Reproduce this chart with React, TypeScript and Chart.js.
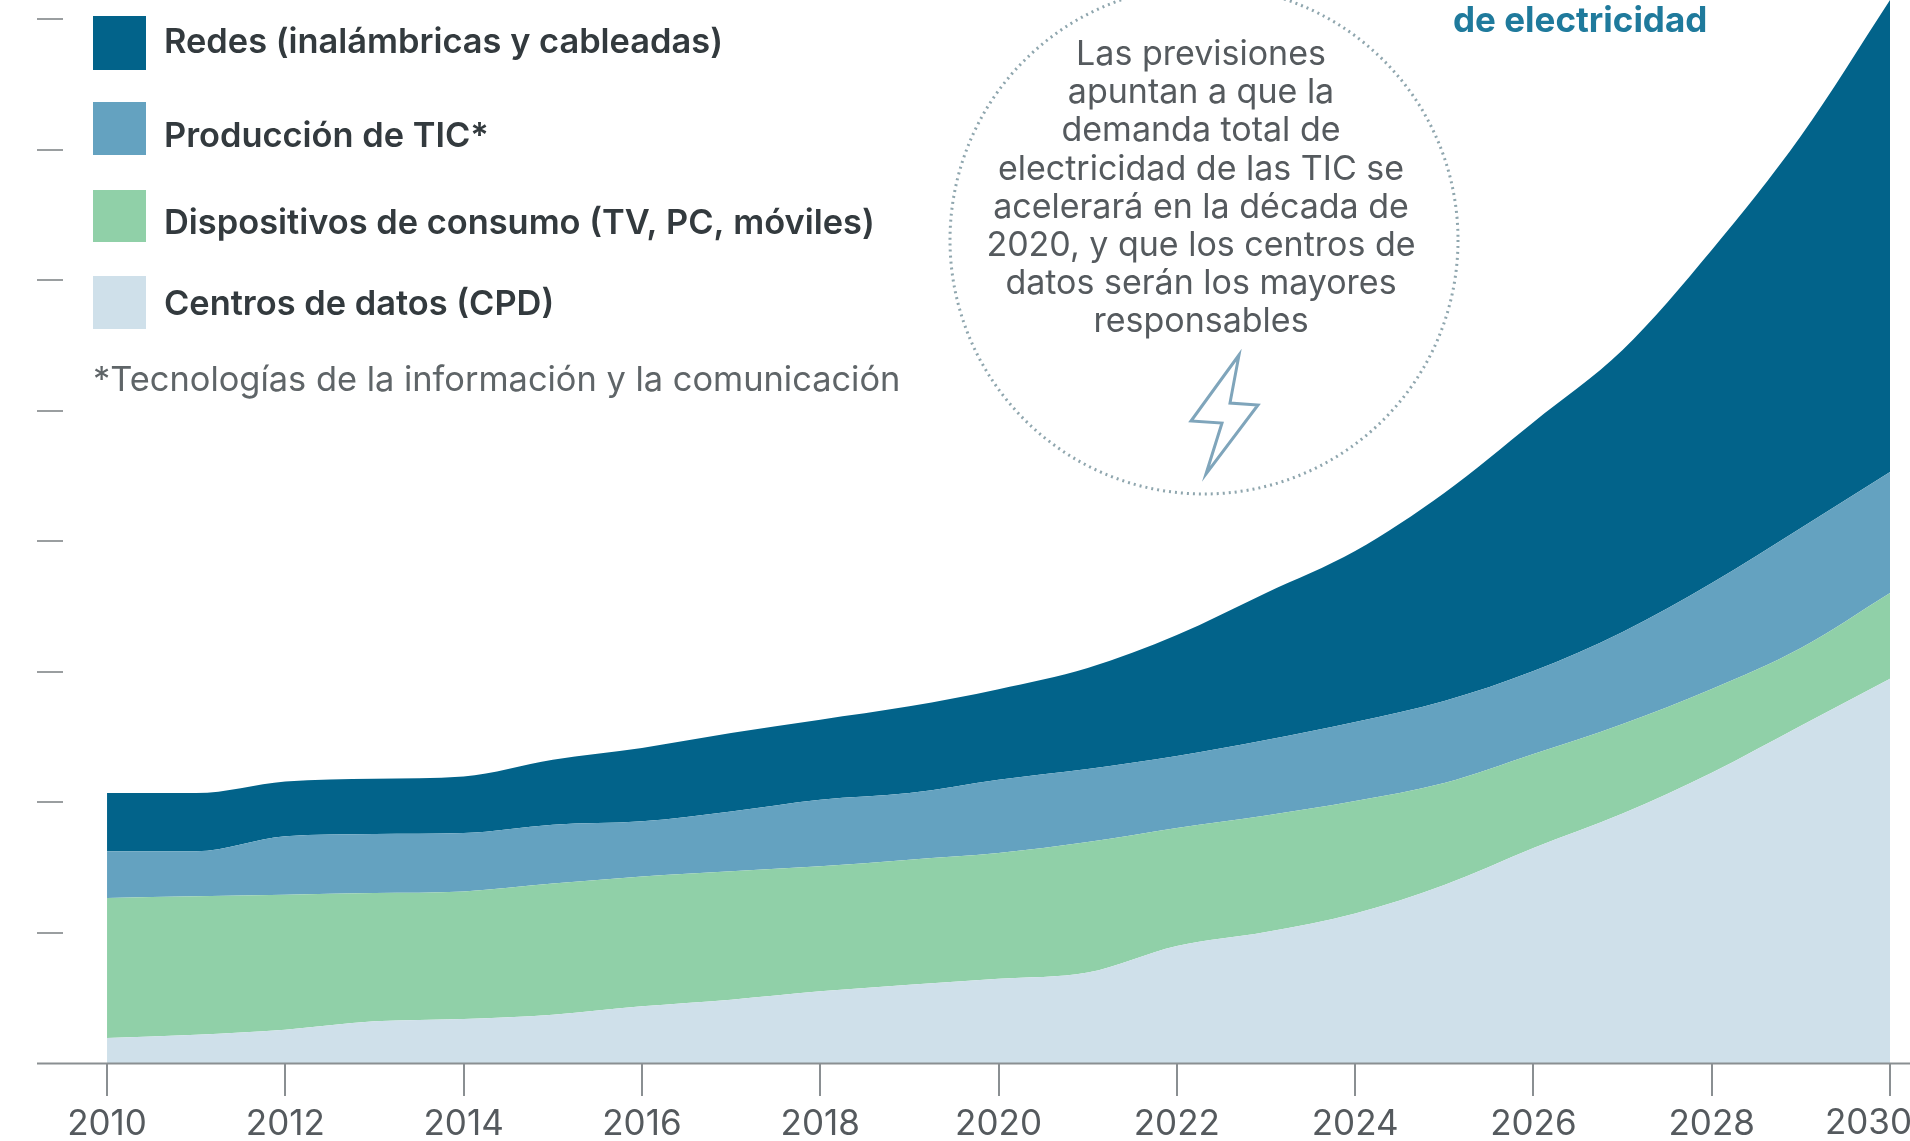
import React, { useEffect, useRef } from "react";
import { Chart, registerables } from "chart.js";

Chart.register(...registerables);

const years = [2010,2011,2012,2013,2014,2015,2016,2017,2018,2019,2020,2021,2022,2023,2024,2025,2026,2027,2028,2029,2030];
const centros = [192,217,255,319,337,370,434,485,549,600,645,693,897,1004,1146,1364,1648,1912,2225,2585,2944];
const dispositivos = [1072,1060,1035,984,978,1005,996,984,958,958,964,1000,904,893,862,782,720,686,641,595,658];
const produccion = [358,345,447,452,447,451,422,459,511,511,562,560,551,578,605,628,636,705,812,920,927];
const redes = [447,447,421,424,434,498,562,600,613,664,694,774,928,1127,1310,1594,1907,2160,2552,3003,3617];

const yTicks = [0,1000,2000,3000,4000,5000,6000,7000,8000];
const xLabels = [2010,2012,2014,2016,2018,2020,2022,2024,2026,2028];
const lastYearLabel = "2030";

const legendNames = ["Redes (inalámbricas y cableadas)","Producción de TIC*","Dispositivos de consumo (TV, PC, móviles)","Centros de datos (CPD)"];
const legendColors = ["#02638a","#64a2c0","#90d0a8","#cfe0ea"];
const footnote = "*Tecnologías de la información y la comunicación";
const calloutLines = ["Las previsiones","apuntan a que la","demanda total de","electricidad de las TIC se","acelerará en la década de","2020, y que los centros de","datos serán los mayores","responsables"];
const headline = "de electricidad";

const FONT = '"Inter", "Open Sans", sans-serif';

const decor = {
  id: "decor",
  afterDraw(chart: any) {
    const c = chart.ctx;
    const x = chart.scales.x;
    c.save();
    // baseline, running past the plot on both sides
    c.strokeStyle = "#8a8f92";
    c.lineWidth = 2;
    c.beginPath();
    c.moveTo(37, x.top + 0.5);
    c.lineTo(1910, x.top + 0.5);
    c.stroke();
    // last year label, pushed in from the edge
    c.fillStyle = "#555a5e";
    c.font = `400 35px ${FONT}`;
    c.textAlign = "right";
    c.textBaseline = "middle";
    c.fillText(lastYearLabel, 1912, 1123);
    // legend
    const swY = [16, 102, 190, 276];
    const swH = [54, 53, 52, 53];
    const txtY = [43, 137, 224, 305];
    legendNames.forEach((name, i) => {
      c.fillStyle = legendColors[i];
      c.fillRect(93, swY[i], 53, swH[i]);
      c.fillStyle = "#333a3e";
      c.font = `600 34.4px ${FONT}`;
      c.textAlign = "left";
      c.textBaseline = "middle";
      c.fillText(name, 164, txtY[i]);
    });
    c.fillStyle = "#5f6568";
    c.font = `400 34.4px ${FONT}`;
    c.fillText(footnote, 93, 381);
    // callout
    c.strokeStyle = "#8fa6ae";
    c.lineWidth = 3;
    c.setLineDash([2, 4]);
    c.beginPath();
    c.arc(1204, 240, 254, 0, Math.PI * 2);
    c.stroke();
    c.setLineDash([]);
    c.fillStyle = "#555a5e";
    c.font = `400 34px ${FONT}`;
    c.textAlign = "center";
    calloutLines.forEach((l, i) => c.fillText(l, 1201, 55 + i * 38.1));
    // bolt icon
    c.strokeStyle = "#7fa5bb";
    c.lineWidth = 3;
    c.lineJoin = "miter";
    c.beginPath();
    c.moveTo(1239, 355);
    c.lineTo(1191, 421);
    c.lineTo(1222, 423);
    c.lineTo(1206, 474);
    c.lineTo(1258, 405);
    c.lineTo(1230, 403);
    c.closePath();
    c.stroke();
    // headline fragment
    c.fillStyle = "#1f7a9c";
    c.font = `700 35px ${FONT}`;
    c.textAlign = "left";
    c.fillText(headline, 1453, 21);
    c.restore();
  },
};

export default function App() {
  const ref = useRef<HTMLCanvasElement>(null);
  useEffect(() => {
    const toPts = (v: number[]) => v.map((y, i) => ({ x: years[i], y }));
    const base = {
      pointRadius: 0,
      borderWidth: 0,
      cubicInterpolationMode: "monotone",
      stack: "all",
    };
    const chart = new Chart(ref.current!, {
      type: "line",
      data: {
        datasets: [
          { ...base, label: legendNames[3], data: toPts(centros), backgroundColor: legendColors[3], fill: "origin" },
          { ...base, label: legendNames[2], data: toPts(dispositivos), backgroundColor: legendColors[2], fill: "-1" },
          { ...base, label: legendNames[1], data: toPts(produccion), backgroundColor: legendColors[1], fill: "-1" },
          { ...base, label: legendNames[0], data: toPts(redes), backgroundColor: legendColors[0], fill: "-1" },
        ],
      },
      options: {
        animation: false,
        responsive: false,
        layout: { padding: { left: 37, right: 0, top: 0, bottom: 0 } },
        plugins: { legend: { display: false }, tooltip: { enabled: false } },
        scales: {
          x: {
            type: "linear",
            min: 2009.506,
            max: 2030.224,
            afterFit: (s: any) => { s.height = 78; },
            afterBuildTicks: (s: any) => { s.ticks = years.filter((y) => (y - 2010) % 2 === 0).map((value) => ({ value })); },
            grid: { drawOnChartArea: false, drawTicks: true, tickLength: 33, color: "#8a8f92", lineWidth: 2 },
            border: { display: false },
            ticks: {
              maxRotation: 0,
              autoSkip: false,
              padding: 7,
              color: "#555a5e",
              font: { family: FONT, size: 35, weight: "400" },
              callback: (v: any) => (xLabels.includes(Number(v)) ? String(v) : ""),
            },
          },
          y: {
            type: "linear",
            stacked: true,
            min: 0,
            max: 8146,
            afterFit: (s: any) => { s.width = 26; },
            afterBuildTicks: (s: any) => { s.ticks = yTicks.map((value) => ({ value })); },
            grid: { drawOnChartArea: false, drawTicks: true, tickLength: 26, color: (ctx: any) => (ctx.tick && ctx.tick.value === 0 ? "rgba(0,0,0,0)" : "#9a9ea0"), lineWidth: 2 },
            border: { display: false },
            ticks: { display: false },
          },
        },
      },
      plugins: [decor],
    } as any);
    return () => chart.destroy();
  }, []);
  return (
    <div style={{ position: "fixed", left: 0, top: 0, width: 1910, height: 1141, background: "#fff" }}>
      <canvas ref={ref} width={1910} height={1141} style={{ display: "block" }} />
    </div>
  );
}
